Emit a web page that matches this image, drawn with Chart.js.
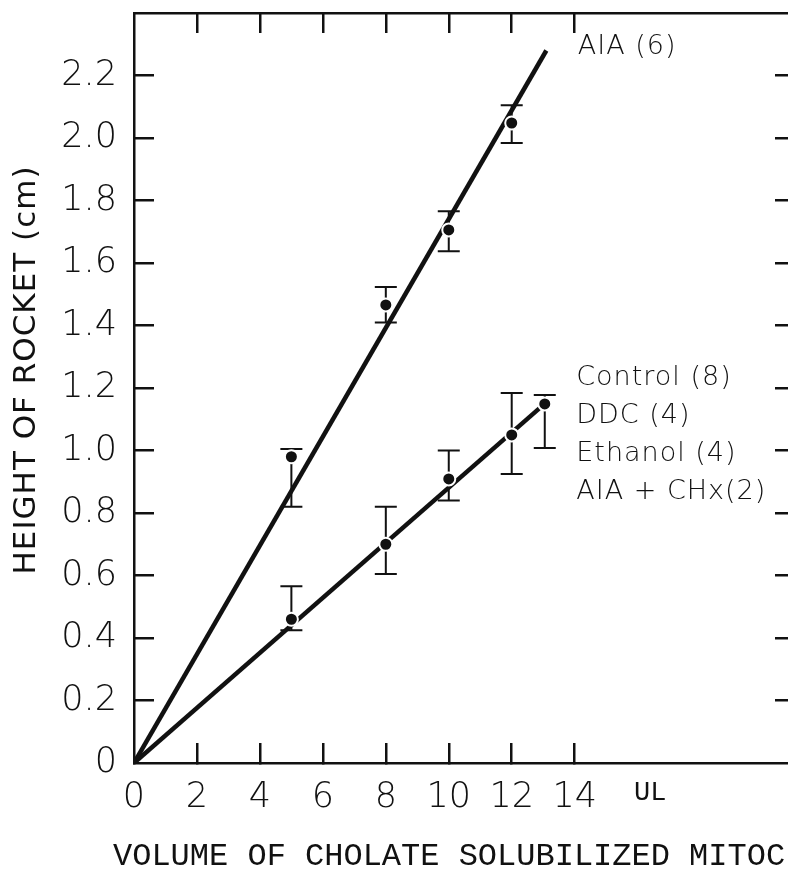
<!DOCTYPE html>
<html>
<head>
<meta charset="utf-8">
<script src="https://cdn.jsdelivr.net/npm/chart.js@4"></script>
<style>
  html, body { margin: 0; padding: 0; background: #fff; overflow: hidden; }
  #wrap { width: 810px; height: 870px; }
</style>
</head>
<body>
<div id="wrap"><canvas id="rocket-chart"></canvas></div>
<script>
// axis ticks
const xTicks = [0, 2, 4, 6, 8, 10, 12, 14];
const xTopTicks = [2, 4, 6, 8, 10, 12, 14];
const yTicks = [0, 0.2, 0.4, 0.6, 0.8, 1.0, 1.2, 1.4, 1.6, 1.8, 2.0, 2.2];
const yRightTicks = [0.2, 0.4, 0.6, 0.8, 1.0, 1.2, 1.4, 1.6, 1.8, 2.0, 2.2];
const unitTick = 16.4;
const unitLabel = 'UL';

// AIA treated group
const aiaDoses = [5, 8, 10, 12];
const aiaHeights = [0.98, 1.466, 1.706, 2.048];
const aiaHigh = [1.005, 1.523, 1.766, 2.105];
const aiaLow = [0.82, 1.41, 1.638, 1.984];
const aiaFitX = [0, 13.1];
const aiaFitY = [0, 2.28];

// control / DDC / ethanol / AIA + CHx group
const ctrlDoses = [5, 8, 10, 12, 13.05];
const ctrlHeights = [0.46, 0.70, 0.909, 1.05, 1.149];
const ctrlHigh = [0.566, 0.82, 1.0, 1.184, 1.178];
const ctrlLow = [0.425, 0.605, 0.84, 0.925, 1.008];
const ctrlFitX = [0, 13.05];
const ctrlFitY = [0, 1.15];

const aiaNote = ['AIA (6)'];
const ctrlNote = ['Control (8)', 'DDC (4)', 'Ethanol (4)', 'AIA + CHx(2)'];

const yTitle = 'HEIGHT OF ROCKET (cm)';
const xTitle = 'VOLUME OF CHOLATE SOLUBILIZED MITOC';

const ink = '#111';
const sans = '"DejaVu Sans", sans-serif';
const tickFont = { family: sans, size: 35, weight: 200 };
const unitFont = { family: '"Liberation Mono", monospace', size: 27 };

const toPoints = (xs, ys) => xs.map((x, i) => ({ x, y: ys[i] }));

// error bars drawn just before each point set
const errorBars = {
  id: 'errorBars',
  beforeDatasetDraw(chart, args) {
    const ds = chart.data.datasets[args.index];
    if (!ds.errHigh) return;
    const { ctx, scales: { x, y } } = chart;
    ctx.save();
    ctx.strokeStyle = ink;
    ctx.lineWidth = 2;
    ds.data.forEach((p, j) => {
      const px = x.getPixelForValue(p.x);
      const top = y.getPixelForValue(ds.errHigh[j]);
      const bot = y.getPixelForValue(ds.errLow[j]);
      ctx.beginPath();
      ctx.moveTo(px, top); ctx.lineTo(px, bot);
      ctx.moveTo(px - 11, top); ctx.lineTo(px + 11, top);
      ctx.moveTo(px - 11, bot); ctx.lineTo(px + 11, bot);
      ctx.stroke();
    });
    ctx.restore();
  }
};

// group labels at the end of each fitted line
const notes = {
  id: 'notes',
  afterDatasetsDraw(chart) {
    const { ctx, scales: { x, y } } = chart;
    ctx.save();
    ctx.fillStyle = ink;
    ctx.font = '200 27px ' + sans;
    ctx.textBaseline = 'middle';
    ctx.letterSpacing = '1px';
    chart.data.datasets.forEach(ds => {
      if (!ds.note) return;
      const px = x.getPixelForValue(ds.noteAt[0]);
      let py = y.getPixelForValue(ds.noteAt[1]);
      ds.note.forEach(line => {
        ctx.fillText(line, px, py);
        py += 38;
      });
    });
    ctx.restore();
  }
};

// axis titles
const titles = {
  id: 'titles',
  afterDraw(chart) {
    const { ctx } = chart;
    ctx.save();
    ctx.fillStyle = ink;
    ctx.font = '31px ' + sans;
    ctx.letterSpacing = '1px';
    ctx.textAlign = 'center';
    ctx.textBaseline = 'middle';
    ctx.translate(27, 370);
    ctx.rotate(-Math.PI / 2);
    ctx.fillText(yTitle, 0, 0);
    ctx.restore();

    ctx.save();
    ctx.fillStyle = ink;
    ctx.font = '32px "Liberation Mono", monospace';
    ctx.textBaseline = 'middle';
    ctx.fillText(xTitle, 113, 857);
    ctx.restore();
  }
};

const hidden = 'rgba(0,0,0,0)';

new Chart(document.getElementById('rocket-chart'), {
  type: 'scatter',
  data: {
    datasets: [
      {
        label: 'AIA',
        data: toPoints(aiaDoses, aiaHeights),
        errHigh: aiaHigh,
        errLow: aiaLow,
        pointRadius: 6.5,
        pointBackgroundColor: ink,
        pointBorderColor: '#fff',
        pointBorderWidth: 2,
        showLine: false
      },
      {
        label: 'Control',
        data: toPoints(ctrlDoses, ctrlHeights),
        errHigh: ctrlHigh,
        errLow: ctrlLow,
        pointRadius: 6.5,
        pointBackgroundColor: ink,
        pointBorderColor: '#fff',
        pointBorderWidth: 2,
        showLine: false
      },
      {
        label: 'AIA fit',
        data: toPoints(aiaFitX, aiaFitY),
        showLine: true,
        borderColor: ink,
        borderWidth: 4.5,
        pointRadius: 0,
        note: aiaNote,
        noteAt: [14.1, 2.29]
      },
      {
        label: 'Control fit',
        data: toPoints(ctrlFitX, ctrlFitY),
        showLine: true,
        borderColor: ink,
        borderWidth: 4.5,
        pointRadius: 0,
        note: ctrlNote,
        noteAt: [14.05, 1.232]
      }
    ]
  },
  options: {
    responsive: true,
    maintainAspectRatio: false,
    animation: false,
    layout: { padding: 0 },
    plugins: {
      legend: { display: false },
      tooltip: { enabled: false }
    },
    scales: {
      x: {
        type: 'linear',
        position: 'bottom',
        min: 0,
        max: 21,
        afterBuildTicks: s => { s.ticks = xTicks.concat(unitTick).map(v => ({ value: v })); },
        afterFit: s => { s.height = 107; s.paddingLeft = 0; s.paddingRight = 0; },
        grid: {
          drawOnChartArea: false,
          tickLength: -20,
          lineWidth: 2.5,
          color: c => (c.tick && (c.tick.value === 0 || c.tick.value === unitTick)) ? hidden : ink
        },
        border: { color: ink, width: 2.5 },
        ticks: {
          color: ink,
          padding: 34,
          maxRotation: 0,
          autoSkip: false,
          font: c => (c.tick && c.tick.value === unitTick) ? unitFont : tickFont,
          callback: v => v === unitTick ? unitLabel : String(v)
        }
      },
      x2: {
        type: 'linear',
        position: 'top',
        min: 0,
        max: 21,
        afterBuildTicks: s => { s.ticks = xTopTicks.map(v => ({ value: v })); },
        afterFit: s => { s.height = 13; s.paddingLeft = 0; s.paddingRight = 0; },
        grid: { drawOnChartArea: false, tickLength: -20, lineWidth: 2.5, color: ink },
        border: { color: ink, width: 2.5 },
        ticks: { display: false }
      },
      y: {
        type: 'linear',
        position: 'left',
        min: 0,
        max: 2.4,
        afterBuildTicks: s => { s.ticks = yTicks.map(v => ({ value: v })); },
        afterFit: s => { s.width = 134; s.paddingTop = 0; s.paddingBottom = 0; },
        grid: {
          drawOnChartArea: false,
          tickLength: -20,
          lineWidth: 2.5,
          color: c => (c.tick && c.tick.value === 0) ? hidden : ink
        },
        border: { color: ink, width: 2.5 },
        ticks: {
          color: ink,
          padding: 37,
          font: tickFont,
          callback: v => v === 0 ? '0' : v.toFixed(1)
        }
      },
      y2: {
        type: 'linear',
        position: 'right',
        min: 0,
        max: 2.4,
        afterBuildTicks: s => { s.ticks = yRightTicks.map(v => ({ value: v })); },
        afterFit: s => { s.width = 15; s.paddingTop = 0; s.paddingBottom = 0; },
        grid: { drawOnChartArea: false, tickLength: -20, lineWidth: 2.5, color: ink },
        border: { color: ink, width: 2.5 },
        ticks: { display: false }
      }
    }
  },
  plugins: [errorBars, notes, titles]
});
</script>
</body>
</html>
